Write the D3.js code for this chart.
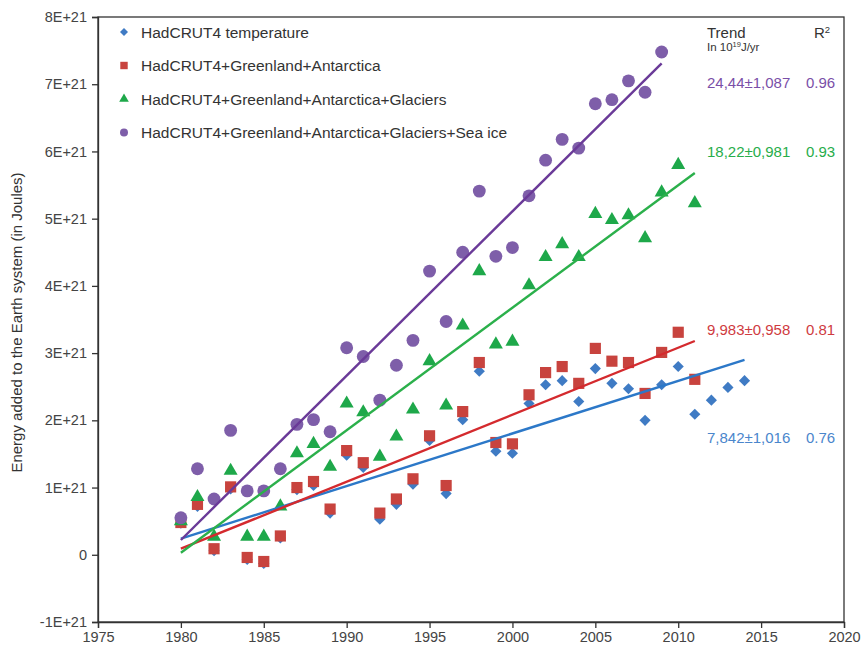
<!DOCTYPE html>
<html>
<head>
<meta charset="utf-8">
<script src="https://cdn.jsdelivr.net/npm/d3@7"></script>
<style>
  body { margin: 0; background: #fff; }
  svg text { font-family: "Liberation Sans", Arial, sans-serif; }
</style>
</head>
<body>
<svg id="chart" width="862" height="647"></svg>
<script>
// values in units of 1E+21 J
const yearsHad = d3.range(1980, 2015);
const yearsGA = d3.range(1980, 2012);
const yearsSea = d3.range(1980, 2010);

const hadcrut = [0.47, 0.72, 0.06, 0.98, -0.07, -0.13, 0.25, 0.97, 1.03, 0.62,
  1.48, 1.30, 0.53, 0.75, 1.05, 1.70, 0.91, 2.01, 2.73, 1.54,
  1.51, 2.25, 2.53, 2.59, 2.28, 2.77, 2.55, 2.47, 2.00, 2.53,
  2.80, 2.09, 2.30, 2.49, 2.59];
const greenAnt = [0.48, 0.75, 0.09, 1.01, -0.04, -0.10, 0.28, 1.00, 1.09, 0.68,
  1.55, 1.37, 0.62, 0.83, 1.13, 1.77, 1.03, 2.13, 2.86, 1.67,
  1.65, 2.38, 2.71, 2.80, 2.55, 3.07, 2.88, 2.86, 2.40, 3.01,
  3.31, 2.61];
const glaciers = [0.50, 0.86, 0.27, 1.25, 0.27, 0.27, 0.72, 1.51, 1.65, 1.31,
  2.25, 2.12, 1.46, 1.76, 2.16, 2.88, 2.22, 3.41, 4.22, 3.13,
  3.17, 4.01, 4.43, 4.62, 4.43, 5.07, 4.98, 5.05, 4.71, 5.39,
  5.80, 5.23];
const seaIce = [0.55, 1.28, 0.83, 1.85, 0.95, 0.95, 1.28, 1.94, 2.01, 1.83,
  3.08, 2.95, 2.30, 2.82, 3.19, 4.22, 3.47, 4.50, 5.41, 4.44,
  4.57, 5.34, 5.87, 6.18, 6.05, 6.71, 6.77, 7.05, 6.88, 7.48];

const seriesNames = ["HadCRUT4 temperature", "HadCRUT4+Greenland+Antarctica",
  "HadCRUT4+Greenland+Antarctica+Glaciers", "HadCRUT4+Greenland+Antarctica+Glaciers+Sea ice"];
// trend line ends [year, value]
const trendStart = [[1980, 0.24], [1980, 0.09], [1980, 0.03], [1980, 0.22]];
const trendEnd = [[2014, 2.90], [2011, 3.18], [2011, 5.68], [2009, 7.31]];
const trendLabels = ["7,842±1,016", "9,983±0,958", "18,22±0,981", "24,44±1,087"];
const r2Labels = ["0.76", "0.81", "0.93", "0.96"];
const labelValues = [1.75, 3.35, 6.00, 7.02];

const xTicks = d3.range(1975, 2021, 5);
const yTicks = d3.range(-1, 9, 1);

const series = [
  { years: yearsHad, values: hadcrut, color: "#3f7bc4", line: "#2c78c8", shape: d3.symbolSquare, rot: 45, size: 62, legendSize: 32, text: "#4a86cc" },
  { years: yearsGA, values: greenAnt, color: "#c8433e", line: "#d42a2e", shape: d3.symbolSquare, rot: 0, size: 125, legendSize: 55, text: "#cf3b3f" },
  { years: yearsGA, values: glaciers, color: "#1ea84a", line: "#2bb04b", shape: d3.symbolTriangle, rot: 0, size: 85, legendSize: 40, text: "#27ad4a" },
  { years: yearsSea, values: seaIce, color: "#7e5ea9", line: "#6a3a98", shape: d3.symbolCircle, rot: 0, size: 130, legendSize: 50, text: "#7a4fa8" }
];

const svg = d3.select("#chart");
const plotLeft = 98, plotRight = 844, plotTop = 17, plotBottom = 622;

const x = d3.scaleLinear().domain([1975, 2020]).range([plotLeft, plotRight]);
const y = d3.scaleLinear().domain([-1, 8]).range([plotBottom, plotTop]);

// frame
svg.append("rect")
  .attr("x", plotLeft).attr("y", plotTop)
  .attr("width", plotRight - plotLeft).attr("height", plotBottom - plotTop)
  .attr("fill", "none").attr("stroke", "#333").attr("stroke-width", 1.3);

const fmtY = d => d === 0 ? "0" : d + "E+21";

const yAxis = svg.append("g")
  .attr("transform", `translate(${plotLeft},0)`)
  .call(d3.axisLeft(y).tickValues(yTicks).tickFormat(fmtY).tickSize(6).tickPadding(5));
const xAxis = svg.append("g")
  .attr("transform", `translate(0,${plotBottom})`)
  .call(d3.axisBottom(x).tickValues(xTicks).tickFormat(d3.format("d")).tickSize(6).tickPadding(4));

[yAxis, xAxis].forEach(g => {
  g.select(".domain").attr("stroke", "#333").attr("stroke-width", 1.3);
  g.selectAll(".tick line").attr("stroke", "#333").attr("stroke-width", 1.3);
  g.selectAll(".tick text").attr("fill", "#444").attr("font-size", 14.5)
    .style("font-family", "'Liberation Sans', Arial, sans-serif");
});

svg.append("text")
  .attr("transform", `translate(22,${(plotTop + plotBottom) / 2 + 3}) rotate(-90)`)
  .attr("text-anchor", "middle")
  .attr("font-size", 15)
  .attr("fill", "#333")
  .text("Energy added to the Earth system (in Joules)");

// points
series.forEach(s => {
  svg.append("g")
    .selectAll("path")
    .data(s.values)
    .enter()
    .append("path")
    .attr("d", d3.symbol().type(s.shape).size(s.size))
    .attr("transform", (d, i) => `translate(${x(s.years[i])},${y(d)}) rotate(${s.rot})`)
    .attr("fill", s.color);
});

// trend lines
series.forEach((s, i) => {
  svg.append("line")
    .attr("x1", x(trendStart[i][0])).attr("y1", y(trendStart[i][1]))
    .attr("x2", x(trendEnd[i][0])).attr("y2", y(trendEnd[i][1]))
    .attr("stroke", s.line)
    .attr("stroke-width", 2.4);
});

// legend
const legend = svg.append("g");
series.forEach((s, i) => {
  const ly = 32 + i * 33.5;
  legend.append("path")
    .attr("d", d3.symbol().type(s.shape).size(s.legendSize))
    .attr("transform", `translate(124,${ly}) rotate(${s.rot})`)
    .attr("fill", s.color);
  legend.append("text")
    .attr("x", 141).attr("y", ly + 5.5)
    .attr("font-size", 15.5)
    .attr("fill", "#333")
    .text(seriesNames[i]);
});

// trend table
svg.append("text").attr("x", 707).attr("y", 38).attr("font-size", 15).attr("fill", "#333").text("Trend");
const unitText = svg.append("text").attr("x", 707).attr("y", 51).attr("font-size", 11.5).attr("fill", "#333");
unitText.append("tspan").text("In 10");
unitText.append("tspan").attr("font-size", 7.5).attr("dy", -4).text("19");
unitText.append("tspan").attr("dy", 4).text("J/yr");
const r2Text = svg.append("text").attr("x", 814).attr("y", 38).attr("font-size", 15).attr("fill", "#333");
r2Text.append("tspan").text("R");
r2Text.append("tspan").attr("font-size", 9.5).attr("dy", -5).text("2");

series.forEach((s, i) => {
  svg.append("text")
    .attr("x", 707).attr("y", y(labelValues[i]) + 5.5)
    .attr("font-size", 15).attr("fill", s.text)
    .text(trendLabels[i]);
  svg.append("text")
    .attr("x", 806).attr("y", y(labelValues[i]) + 5.5)
    .attr("font-size", 15).attr("fill", s.text)
    .text(r2Labels[i]);
});
</script>
</body>
</html>
